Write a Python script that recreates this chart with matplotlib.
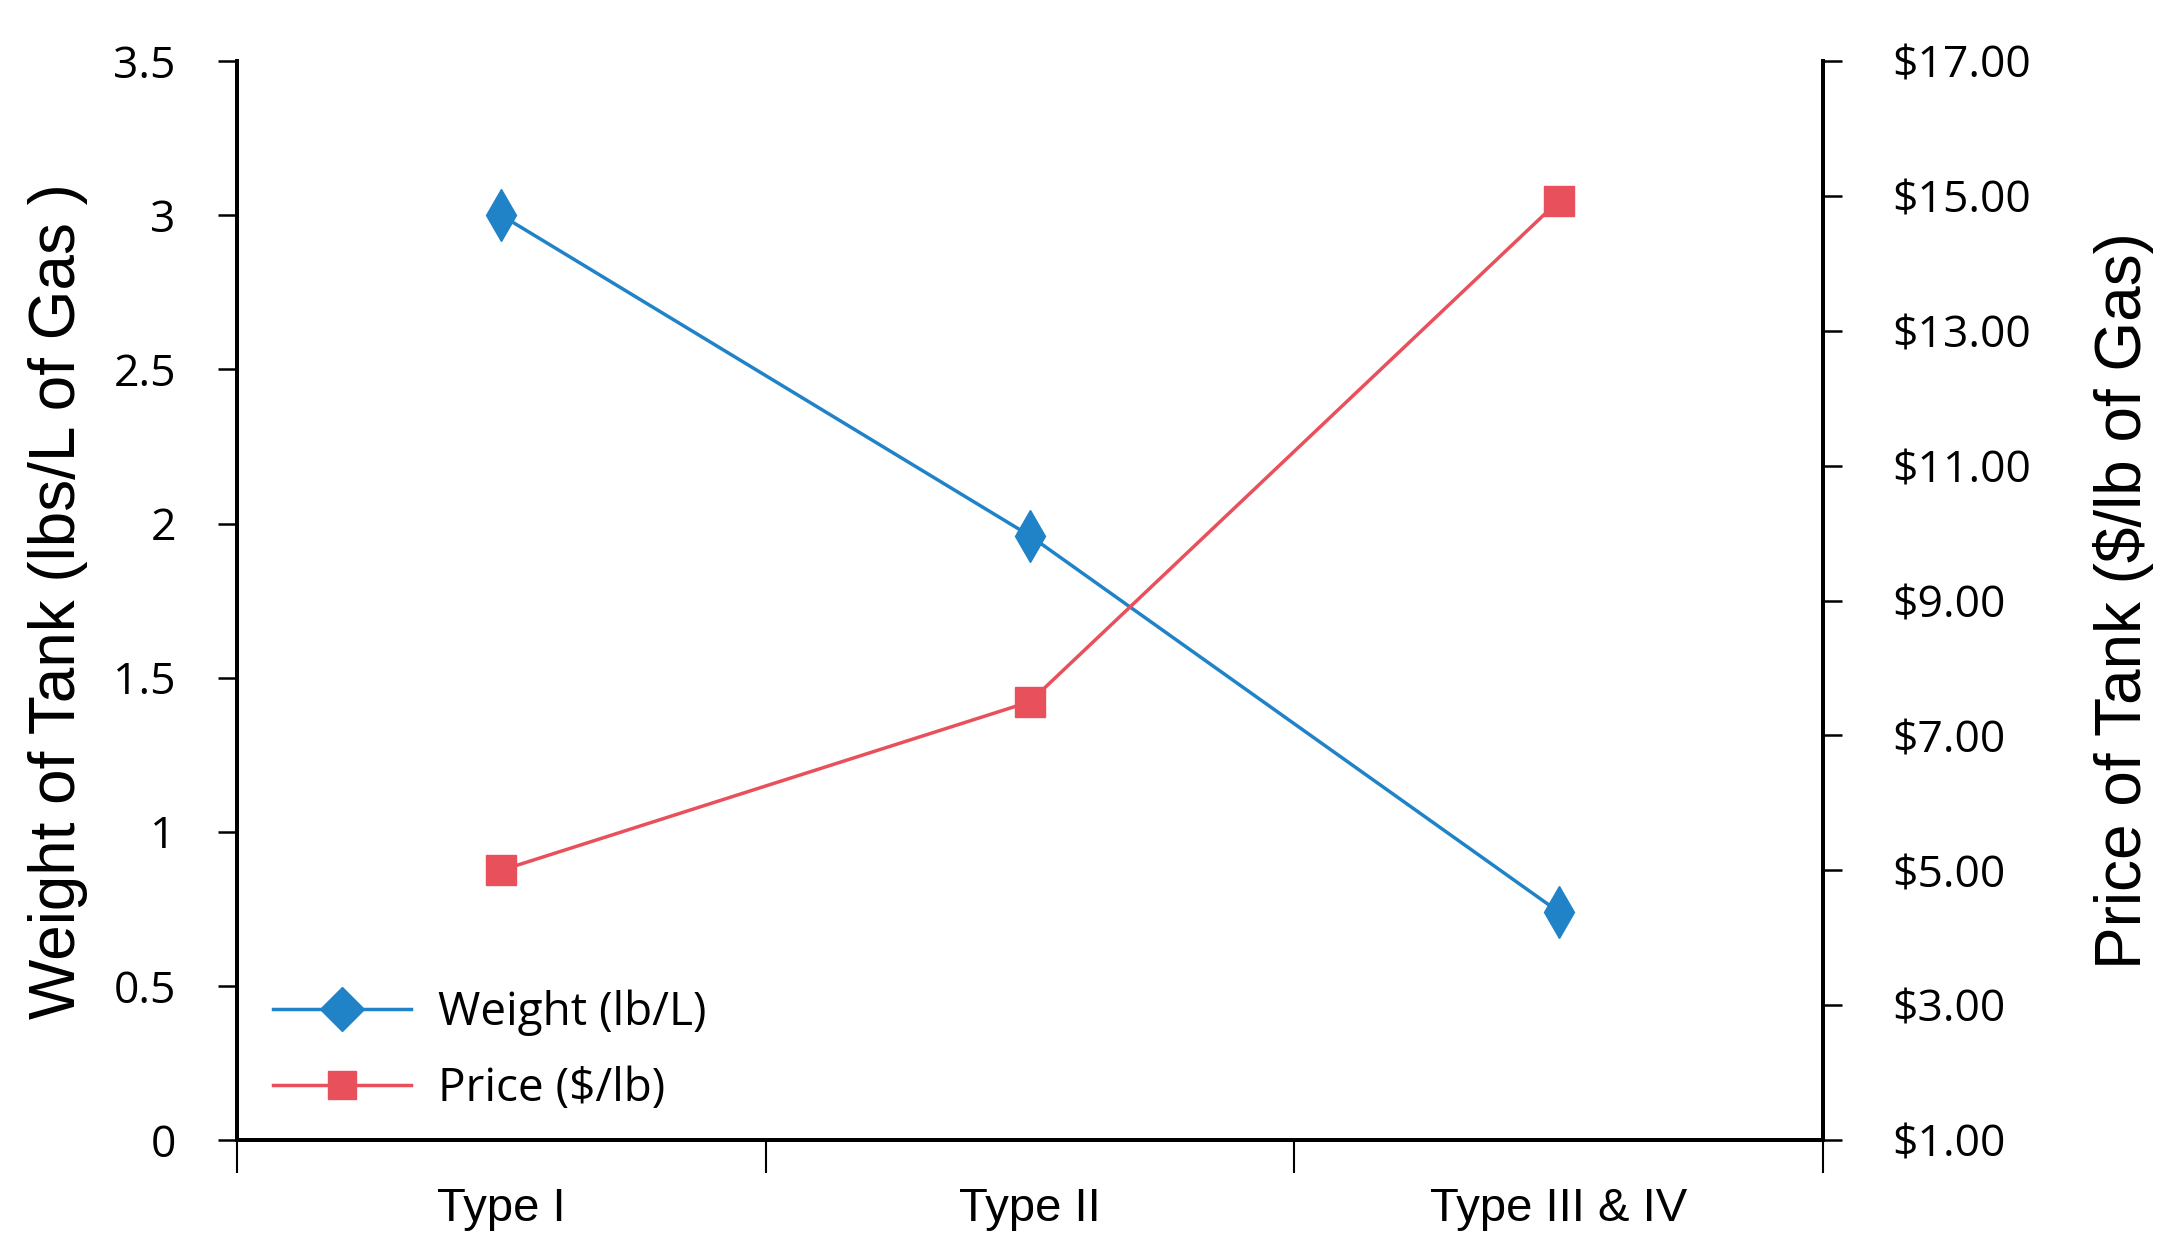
import matplotlib
matplotlib.use("Agg")
import matplotlib.pyplot as plt
from matplotlib.lines import Line2D
import numpy as np

# datos
categorias = ["Type I", "Type II", "Type III & IV"]
peso = [3.0, 1.96, 0.74]
precio = [5.0, 7.5, 14.93]

ticksIzq = [0, 0.5, 1, 1.5, 2, 2.5, 3, 3.5]
etiquetasIzq = ["0", "0.5", "1", "1.5", "2", "2.5", "3", "3.5"]
ticksDer = [1, 3, 5, 7, 9, 11, 13, 15, 17]
etiquetasDer = ["$1.00", "$3.00", "$5.00", "$7.00", "$9.00", "$11.00", "$13.00", "$15.00", "$17.00"]

azul = "#2083c8"
rojo = "#e8505b"
fuenteTicks = ["Open Sans", "DejaVu Sans"]
fuenteNarrow = ["Liberation Sans", "DejaVu Sans"]

fig = plt.figure(figsize=(21.74, 12.49), dpi=100)
ax = fig.add_axes([0.109, 0.0873, 0.7296, 0.8637])
ax2 = ax.twinx()

x = np.arange(len(categorias)) + 0.5

ax.plot(x, peso, color=azul, lw=2.5, marker="d", markersize=26)
ax2.plot(x, precio, color=rojo, lw=2.5, marker="s", markersize=21)

ax.set_xlim(0, 3)
ax.set_ylim(0, 3.5)
ax2.set_ylim(1, 17)

for a in (ax, ax2):
    a.spines["top"].set_visible(False)
    for s in ("left", "right", "bottom"):
        a.spines[s].set_linewidth(2.8)

ax.set_xticks([0, 1, 2, 3])
ax.set_xticklabels([])
ax.set_xticks(x, minor=True)
ax.set_xticklabels(categorias, minor=True, fontsize=34, family=fuenteNarrow)
ax.tick_params(axis="x", which="major", length=24, width=1.5, direction="out")
ax.tick_params(axis="x", which="minor", length=0, pad=34)

ax.set_yticks(ticksIzq)
ax.set_yticklabels(etiquetasIzq, fontsize=32, family=fuenteTicks, weight="medium")
ax.tick_params(axis="y", length=14, width=1.8, pad=30)

ax2.set_yticks(ticksDer)
ax2.set_yticklabels(etiquetasDer, fontsize=32, family=fuenteTicks, weight="medium")
ax2.tick_params(axis="y", length=14, width=1.8, pad=36)

ax.set_ylabel("Weight of Tank (lbs/L of Gas )", fontsize=46, family=fuenteNarrow, labelpad=18)
ax2.set_ylabel("Price of Tank ($/lb of Gas)", fontsize=46, family=fuenteNarrow, labelpad=44)

# leyenda con rombo normal
handles = [
    Line2D([], [], color=azul, lw=2.5, marker="D", markersize=22, label="Weight (lb/L)"),
    Line2D([], [], color=rojo, lw=2.5, marker="s", markersize=20, label="Price ($/lb)"),
]
ax.legend(handles=handles, loc="lower left", bbox_to_anchor=(-0.003, -0.012),
          frameon=False, prop={"family": fuenteTicks, "size": 33, "weight": "medium"},
          handlelength=3.0, labelspacing=0.65, handletextpad=0.6)

fig.savefig("out.png", dpi=100)
